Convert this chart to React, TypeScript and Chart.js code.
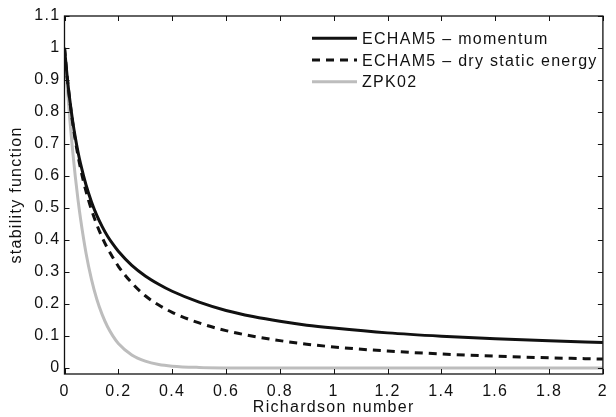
import React, { useEffect, useRef } from "react";
import { Chart, registerables } from "chart.js";

Chart.register(...registerables);

const RI = [0, 0.01, 0.02, 0.03, 0.04, 0.05, 0.06, 0.08, 0.1, 0.12, 0.14, 0.16, 0.18, 0.2, 0.25, 0.3, 0.35, 0.4, 0.5, 0.6, 0.7, 0.8, 0.9, 1.0, 1.2, 1.4, 1.6, 1.8, 2.0];
const MOMENTUM = [1, 0.91, 0.836, 0.774, 0.721, 0.676, 0.637, 0.572, 0.52, 0.477, 0.442, 0.412, 0.387, 0.365, 0.321, 0.288, 0.262, 0.24, 0.206, 0.18, 0.161, 0.146, 0.134, 0.125, 0.11, 0.0996, 0.0916, 0.0851, 0.0797];
const DRY_STATIC = [1, 0.909, 0.833, 0.768, 0.712, 0.664, 0.622, 0.552, 0.495, 0.448, 0.408, 0.374, 0.345, 0.318, 0.266, 0.226, 0.197, 0.174, 0.141, 0.117, 0.0995, 0.0858, 0.0748, 0.066, 0.0532, 0.0441, 0.0373, 0.0321, 0.0281];
const ZPK02 = [1, 0.88, 0.774, 0.681, 0.599, 0.527, 0.464, 0.359, 0.278, 0.215, 0.167, 0.129, 0.1, 0.077, 0.041, 0.0215, 0.011, 0.006, 0.002, 0.0005, 0, 0, 0, 0, 0, 0, 0, 0, 0];

const X_TICKS = [0, 0.2, 0.4, 0.6, 0.8, 1, 1.2, 1.4, 1.6, 1.8, 2];
const Y_TICKS = [0, 0.1, 0.2, 0.3, 0.4, 0.5, 0.6, 0.7, 0.8, 0.9, 1, 1.1];
const SERIES_LABELS = ["ECHAM5 \u2013 momentum", "ECHAM5 \u2013 dry static energy", "ZPK02"];
const X_TITLE = "Richardson number";
const Y_TITLE = "stability function";

const FONT = "'Liberation Sans', Arial, Helvetica, sans-serif";
const INK = "#111111";
const GRAY = "#bdbdbd";
const SPACING = "1.3px";

const fmt = (v: number) => String(Math.round(v * 10) / 10);

const pts = (ys: number[]) => RI.map((x, i) => ({ x, y: ys[i] }));

const decorPlugin = {
  id: "decor",
  beforeLayout(chart: any) {
    (chart.ctx as any).letterSpacing = SPACING;
  },
  beforeDraw(chart: any) {
    (chart.ctx as any).letterSpacing = SPACING;
  },
  afterDraw(chart: any) {
    const ctx = chart.ctx;
    const { left, right, top, bottom } = chart.chartArea;
    const xs = chart.scales.x;
    const ys = chart.scales.y;
    const TL = 5;
    ctx.save();
    (ctx as any).letterSpacing = SPACING;
    ctx.strokeStyle = INK;
    ctx.lineWidth = 1;
    ctx.beginPath();
    X_TICKS.forEach((v) => {
      const px = Math.round(xs.getPixelForValue(v)) + 0.5;
      ctx.moveTo(px, bottom);
      ctx.lineTo(px, bottom - TL);
      ctx.moveTo(px, top);
      ctx.lineTo(px, top + TL);
    });
    Y_TICKS.forEach((v) => {
      const py = Math.round(ys.getPixelForValue(v)) + 0.5;
      ctx.moveTo(left, py);
      ctx.lineTo(left + TL, py);
      ctx.moveTo(right, py);
      ctx.lineTo(right - TL, py);
    });
    ctx.stroke();
    ctx.lineWidth = 1.3;
    ctx.strokeRect(left, top, right - left, bottom - top);

    // legend
    const rows = [38.3, 60, 81.7];
    const styles = [
      { color: INK, width: 3, dash: [] as number[] },
      { color: INK, width: 3, dash: [8, 6] },
      { color: GRAY, width: 3, dash: [] as number[] },
    ];
    ctx.font = `16px ${FONT}`;
    ctx.textAlign = "left";
    ctx.textBaseline = "alphabetic";
    ctx.fillStyle = INK;
    rows.forEach((y, i) => {
      ctx.beginPath();
      ctx.setLineDash(styles[i].dash);
      ctx.strokeStyle = styles[i].color;
      ctx.lineWidth = styles[i].width;
      ctx.moveTo(312, y);
      ctx.lineTo(357, y);
      ctx.stroke();
      ctx.setLineDash([]);
      ctx.fillText(SERIES_LABELS[i], 362, y + 5.5);
    });

    // axis titles
    ctx.textAlign = "center";
    ctx.fillText(X_TITLE, (left + right) / 2, 412);
    ctx.translate(21, (top + bottom) / 2);
    ctx.rotate(-Math.PI / 2);
    ctx.fillText(Y_TITLE, 0, 0);
    ctx.restore();
  },
};

export default function App() {
  const ref = useRef<HTMLCanvasElement | null>(null);
  useEffect(() => {
    document.body.style.margin = "0";
    const canvas = ref.current;
    if (!canvas) return;
    const chart = new Chart(canvas, {
      type: "line",
      data: {
        datasets: [
          {
            label: SERIES_LABELS[0],
            data: pts(MOMENTUM),
            borderColor: INK,
            borderWidth: 3,
            pointRadius: 0,
            cubicInterpolationMode: "monotone",
            order: 1,
          },
          {
            label: SERIES_LABELS[1],
            data: pts(DRY_STATIC),
            borderColor: INK,
            borderWidth: 3,
            borderDash: [8, 6],
            pointRadius: 0,
            cubicInterpolationMode: "monotone",
            order: 2,
          },
          {
            label: SERIES_LABELS[2],
            data: pts(ZPK02),
            borderColor: GRAY,
            borderWidth: 3,
            pointRadius: 0,
            cubicInterpolationMode: "monotone",
            order: 3,
          },
        ],
      },
      options: {
        animation: false,
        responsive: false,
        devicePixelRatio: 1,
        layout: { padding: { top: 16, right: 6, left: 0, bottom: 0 } },
        plugins: { legend: { display: false }, tooltip: { enabled: false } },
        scales: {
          x: {
            type: "linear",
            min: 0,
            max: 2,
            grid: { display: false, drawTicks: false },
            border: { display: false },
            afterBuildTicks: (s: any) => {
              s.ticks = X_TICKS.map((value) => ({ value }));
            },
            afterFit: (s: any) => {
              s.height = 43;
            },
            ticks: {
              autoSkip: false,
              maxRotation: 0,
              padding: 8,
              color: INK,
              font: { family: FONT, size: 16 },
              callback: (v: any) => fmt(Number(v)),
            },
          },
          y: {
            type: "linear",
            min: -0.0185,
            max: 1.1,
            grid: { display: false, drawTicks: false },
            border: { display: false },
            afterBuildTicks: (s: any) => {
              s.ticks = Y_TICKS.map((value) => ({ value }));
            },
            afterFit: (s: any) => {
              s.width = 64.5;
            },
            ticks: {
              autoSkip: false,
              padding: 4,
              color: INK,
              font: { family: FONT, size: 16 },
              callback: (v: any) => fmt(Number(v)),
            },
          },
        },
      },
      plugins: [decorPlugin],
    } as any);
    return () => chart.destroy();
  }, []);
  return (
    <div style={{ position: "absolute", left: 0, top: 0, width: 616, height: 417 }}>
      <canvas ref={ref} width={616} height={417} style={{ display: "block" }} />
    </div>
  );
}
